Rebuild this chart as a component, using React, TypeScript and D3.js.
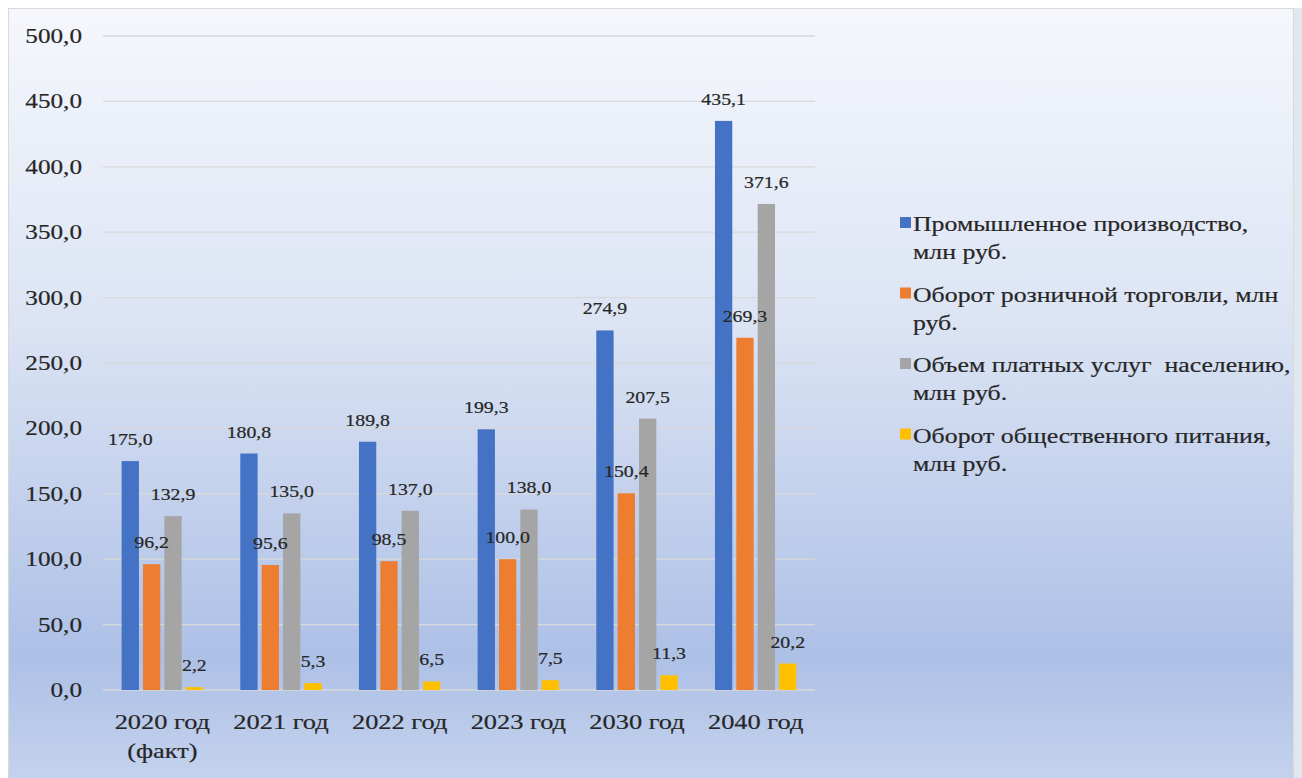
import React from "react";
import * as d3 from "d3";

const categories = ["2020 год\n(факт)", "2021 год", "2022 год", "2023 год", "2030 год", "2040 год"];
const seriesNames = [
  "Промышленное производство,\nмлн руб.",
  "Оборот розничной торговли, млн\nруб.",
  "Объем платных услуг  населению,\nмлн руб.",
  "Оборот общественного питания,\nмлн руб.",
];
const industrial = [175.0, 180.8, 189.8, 199.3, 274.9, 435.1];
const retail = [96.2, 95.6, 98.5, 100.0, 150.4, 269.3];
const services = [132.9, 135.0, 137.0, 138.0, 207.5, 371.6];
const catering = [2.2, 5.3, 6.5, 7.5, 11.3, 20.2];
const yTicks = [0, 50, 100, 150, 200, 250, 300, 350, 400, 450, 500];
const colors = ["#4472C4", "#ED7D31", "#A5A5A5", "#FFC000"];

const W = 1302;
const H = 778;
const plotLeft = 103;
const plotRight = 815;
const plotTop = 36;
const plotBottom = 690;
const SX = 1.2;
const textColor = "#262626";

const fmt = (v: number) => v.toFixed(1).replace(".", ",");

function SText({ x, y, size, anchor, children }: { x: number; y: number; size: number; anchor: string; children: React.ReactNode }) {
  return (
    <text
      transform={`translate(${x},${y}) scale(${SX},1)`}
      style={{ fontFamily: "'Liberation Serif', 'Times New Roman', serif", fontSize: size + "px", whiteSpace: "pre" }}
      fill={textColor}
      stroke={textColor}
      strokeWidth={0.2}
      textAnchor={anchor}
    >
      {children}
    </text>
  );
}

export default function App() {
  const series = [industrial, retail, services, catering];
  const x0 = d3
    .scaleBand<number>()
    .domain(d3.range(categories.length))
    .range([plotLeft, plotRight])
    .paddingInner(0.314)
    .paddingOuter(0.157);
  const x1 = d3
    .scaleBand<number>()
    .domain(d3.range(series.length))
    .range([0, x0.bandwidth()])
    .paddingInner(0.19)
    .paddingOuter(0);
  const y = d3.scaleLinear().domain([0, 500]).range([plotBottom, plotTop]);

  return (
    <svg
      width={W}
      height={H}
      style={{ position: "absolute", left: 0, top: 0 }}
      xmlns="http://www.w3.org/2000/svg"
    >
      <defs>
        <linearGradient id="bg" x1="0" y1="0" x2="0" y2="1">
          <stop offset="0" stopColor="#f5f7fc" />
          <stop offset="0.4" stopColor="#dce4f4" />
          <stop offset="0.83" stopColor="#adc0e6" />
          <stop offset="1" stopColor="#c5d3ed" />
        </linearGradient>
      </defs>
      <rect x={0} y={0} width={W} height={H} fill="#ffffff" />
      <rect x={1294} y={8} width={8} height={H - 8} fill="#e2e6ee" />
      <rect x={8.5} y={8.5} width={1285} height={780} fill="url(#bg)" stroke="#d9d9d9" strokeWidth={1} />

      {yTicks.map((t) => (
        <line key={t} x1={plotLeft} x2={plotRight} y1={y(t)} y2={y(t)} stroke="#d9d9d9" strokeWidth={1.3} />
      ))}

      {yTicks.map((t) => (
        <SText key={t} x={82} y={y(t) + 7} size={21} anchor="end">
          {fmt(t)}
        </SText>
      ))}

      {series.map((vals, si) =>
        vals.map((v, ci) => {
          const bx = (x0(ci) as number) + (x1(si) as number);
          return (
            <rect
              key={`${si}-${ci}`}
              x={bx}
              y={y(v)}
              width={x1.bandwidth()}
              height={plotBottom - y(v)}
              fill={colors[si]}
            />
          );
        })
      )}

      {series.map((vals, si) =>
        vals.map((v, ci) => {
          const cx = (x0(ci) as number) + (x1(si) as number) + x1.bandwidth() / 2;
          return (
            <SText key={`l${si}-${ci}`} x={cx} y={y(v) - 16} size={16.5} anchor="middle">
              {fmt(v)}
            </SText>
          );
        })
      )}

      {categories.map((c, ci) => {
        const cx = (x0(ci) as number) + x0.bandwidth() / 2;
        return c.split("\n").map((line, li) => (
          <SText key={`x${ci}-${li}`} x={cx} y={729 + li * 29} size={22} anchor="middle">
            {line}
          </SText>
        ));
      })}

      {seriesNames.map((name, si) => {
        const ly = 231 + si * 70.5;
        return (
          <g key={`lg${si}`}>
            <rect x={900} y={ly - 14} width={11} height={11} fill={colors[si]} />
            {name.split("\n").map((line, li) => (
              <SText key={li} x={913} y={ly + li * 28} size={21.5} anchor="start">
                {line}
              </SText>
            ))}
          </g>
        );
      })}
    </svg>
  );
}
